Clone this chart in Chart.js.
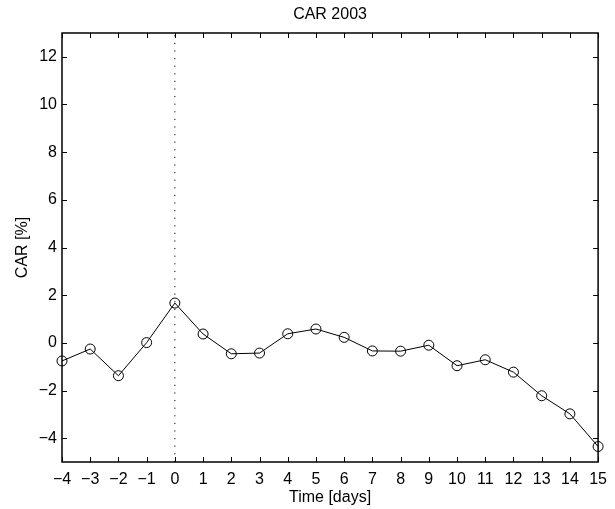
<!DOCTYPE html>
<html lang="en">
<head>
  <meta charset="UTF-8">
  <title>CAR 2003</title>
</head>
<style>
* {
  margin: 0;
  padding: 0;
}

body {
  background-color: #fff;
  width: 615px;
  height: 509px;
  overflow: hidden;
}
</style>
<body>
<canvas id="car" width="615" height="509"></canvas>
<script src="https://cdn.jsdelivr.net/npm/chart.js@4.4.1/dist/chart.umd.min.js"></script>
<script>
const days = [-4, -3, -2, -1, 0, 1, 2, 3, 4, 5, 6, 7, 8, 9, 10, 11, 12, 13, 14, 15];
const car = [-0.76, -0.26, -1.38, 0.01, 1.67, 0.37, -0.46, -0.43, 0.38, 0.58,
             0.23, -0.34, -0.35, -0.1, -0.96, -0.71, -1.23, -2.22, -2.98, -4.35];
const yTicks = [-4, -2, 0, 2, 4, 6, 8, 10, 12];
const xRange = [-4, 15];
const yRange = [-5, 13];
const eventDay = 0;

const font = { family: "'Liberation Sans', Arial, sans-serif", size: 16, weight: "normal" };
const minus = (v) => String(v).replace("-", "\u2212");

// box + inward ticks on all four sides, matlab style
const boxTicks = {
  id: "boxTicks",
  afterDraw(chart) {
    const { ctx, chartArea: a, scales } = chart;
    const len = 5;
    ctx.save();
    ctx.strokeStyle = "#000";
    ctx.lineWidth = 1;
    ctx.beginPath();
    scales.x.ticks.forEach((t) => {
      const px = Math.round(scales.x.getPixelForValue(t.value)) + 0.5;
      ctx.moveTo(px, a.bottom); ctx.lineTo(px, a.bottom - len);
      ctx.moveTo(px, a.top); ctx.lineTo(px, a.top + len);
    });
    scales.y.ticks.forEach((t) => {
      const py = Math.round(scales.y.getPixelForValue(t.value)) + 0.5;
      ctx.moveTo(a.left, py); ctx.lineTo(a.left + len, py);
      ctx.moveTo(a.right, py); ctx.lineTo(a.right - len, py);
    });
    ctx.stroke();
    ctx.lineWidth = 1.5;
    ctx.strokeRect(a.left, a.top, a.right - a.left, a.bottom - a.top);
    ctx.restore();
  }
};

new Chart(document.getElementById("car"), {
  type: "line",
  plugins: [boxTicks],
  data: {
    datasets: [
      {
        data: days.map((d, i) => ({ x: d, y: car[i] })),
        borderColor: "#000",
        borderWidth: 1,
        pointRadius: 5,
        pointBorderWidth: 1,
        pointBorderColor: "#000",
        pointBackgroundColor: "rgba(0,0,0,0)",
        clip: false
      },
      {
        data: [{ x: eventDay, y: yRange[0] }, { x: eventDay, y: yRange[1] }],
        borderColor: "#000",
        borderWidth: 1,
        borderDash: [1.2, 6.4],
        pointRadius: 0
      }
    ]
  },
  options: {
    responsive: false,
    animation: false,
    layout: { padding: { right: 8 } },
    plugins: {
      legend: { display: false },
      tooltip: { enabled: false },
      title: {
        display: true,
        text: "CAR 2003",
        color: "#000",
        font: font,
        fullSize: false,
        padding: { top: 5, bottom: 8.8 }
      }
    },
    scales: {
      x: {
        type: "linear",
        min: xRange[0],
        max: xRange[1],
        afterBuildTicks: (s) => { s.ticks = days.map((v) => ({ value: v })); },
        afterFit: (s) => { s.height = 47; },
        grid: { display: false, drawTicks: false },
        border: { display: false },
        ticks: { color: "#000", font: font, padding: 8, maxRotation: 0, callback: minus },
        title: { display: true, text: "Time [days]", color: "#000", font: font, padding: { bottom: 2 } }
      },
      y: {
        min: yRange[0],
        max: yRange[1],
        afterBuildTicks: (s) => { s.ticks = yTicks.map((v) => ({ value: v })); },
        afterFit: (s) => { s.width = 62; },
        grid: { display: false, drawTicks: false },
        border: { display: false },
        ticks: { color: "#000", font: font, padding: 5, callback: minus },
        title: { display: true, text: "CAR [%]", color: "#000", font: font, padding: { top: 13 } }
      }
    }
  }
});
</script>
</body>
</html>
